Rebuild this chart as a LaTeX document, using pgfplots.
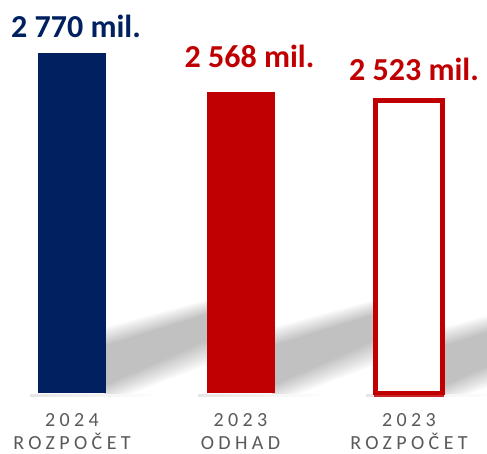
\documentclass[border=0pt]{standalone}
\usepackage{fontspec}
\setmainfont{Carlito}
\newfontfamily\spaced[LetterSpace=22]{Carlito}
\usepackage{pgfplots}
\pgfplotsset{compat=1.18}
\definecolor{navy}{HTML}{002060}
\definecolor{dred}{HTML}{C00000}
\definecolor{lgray}{HTML}{595959}

\begin{document}
\begin{tikzpicture}[x=1pt,y=1pt]
\useasboundingbox (0,0) rectangle (487,454);
% soft shadows behind the bars
\begin{scope}
\clip (0,60) rectangle (487,454);
\foreach \R in {106,274,445} {
  \foreach \d in {14,12,10,8,6,4,2,0,-2,-4} {
    \fill[black, opacity=0.026] (\R-2,112+\d) -- (\R+125+\d,150+\d) -- (\R+125+\d,118-\d) -- (\R-2,64-\d) -- cycle;
  }
}
\end{scope}
\foreach \L in {30,198,366} {
  \fill[left color=black!10, right color=white] (\L,57.5) rectangle (\L+130,59.5);
}
\begin{axis}[
  at={(4.6pt,61pt)}, anchor=south west,
  x=168.5pt, y=0.192pt,
  xmin=-0.4, xmax=2.4, ymin=1000, ymax=2800,
  axis line style={draw=none},
  ytick=\empty,
  xtick={0,1,2},
  xticklabels={{2024\\ROZPOČET},{2023\\ODHAD},{2023\\ROZPOČET}},
  xticklabel style={align=center, font=\spaced\fontsize{20}{22.5}\selectfont, text=lgray, yshift=-17pt},
  major tick length=0pt,
  clip=false,
  point meta=explicit symbolic,
]
\addplot[ybar, bar width=68pt, bar shift=0pt, fill=navy, draw=none,
  nodes near coords,
  every node near coord/.append style={font=\bfseries\fontsize{32}{32}\selectfont, text=navy, anchor=base, xshift=4pt, yshift=16pt}]
  coordinates {(0,2770) [2 770 mil.]};
\addplot[ybar, bar width=68pt, bar shift=0pt, fill=dred, draw=none,
  nodes near coords,
  every node near coord/.append style={font=\bfseries\fontsize{32}{32}\selectfont, text=dred, anchor=base, xshift=9pt, yshift=24pt}]
  coordinates {(1,2568) [2 568 mil.]};
\addplot[ybar, bar width=67pt, bar shift=0pt, fill=white, draw=dred, line width=4.5pt,
  nodes near coords,
  every node near coord/.append style={font=\bfseries\fontsize{32}{32}\selectfont, text=dred, anchor=base, xshift=5pt, yshift=20pt}]
  coordinates {(2,2523) [2 523 mil.]};
\end{axis}
\draw[dred!85, line width=1.5pt] (374,58.2) -- (444,58.2);
\end{tikzpicture}
\end{document}
